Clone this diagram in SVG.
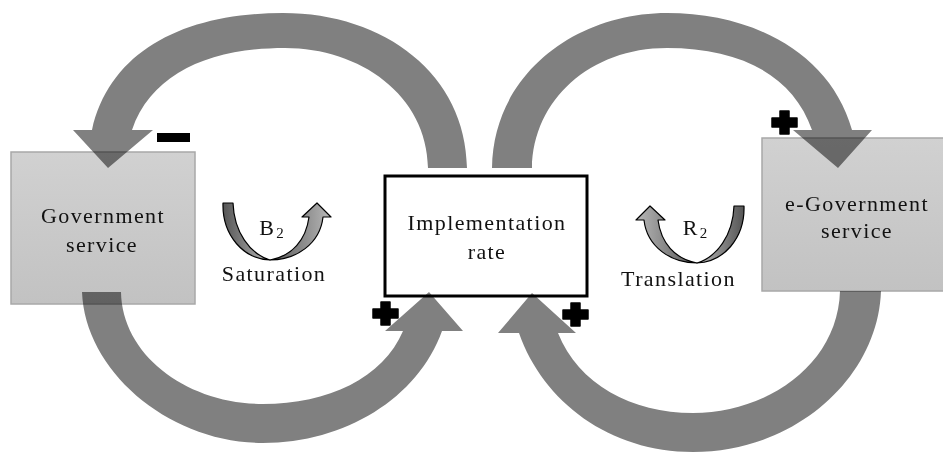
<svg xmlns="http://www.w3.org/2000/svg" width="943" height="453" viewBox="0 0 943 453">
<defs>
<linearGradient id="boxg" x1="0" y1="0" x2="0" y2="1">
<stop offset="0" stop-color="#d1d1d1"/>
<stop offset="1" stop-color="#c2c2c2"/>
</linearGradient>
<linearGradient id="icong" x1="0" y1="0" x2="1" y2="0">
<stop offset="0" stop-color="#555555"/>
<stop offset="1" stop-color="#b8b8b8"/>
</linearGradient>
<path id="plus" d="M -4.5,-11.5 h9 v7 h8 v9 h-8 v7 h-9 v-7 h-8 v-9 h8 z"/>
<g id="loopicon">
<path d="M 223,203 L 233,203 C 234,232 250,254 270,260 C 244,259 222,236 223,203 Z"/>
<path d="M 270,260 C 292,256 306,240 309,217 L 302,217 L 317,203 L 331,217 L 323,217 C 320,244 296,260 270,260 Z"/>
</g>
</defs>
<style>
.box{fill:url(#boxg);stroke:#a8a8a8;stroke-width:1.5}
.impl{fill:#ffffff;stroke:#000000;stroke-width:3}
.arrow{fill:#808080;mix-blend-mode:multiply}
.lbl{font-family:"Liberation Serif","Times New Roman",serif;font-size:22px;fill:#111111;letter-spacing:1.4px;text-anchor:middle}
.sub{font-size:15px;letter-spacing:0}
.icon{fill:url(#icong);stroke:#000000;stroke-width:1.2;stroke-linejoin:round}
.sign{fill:#000000;stroke:#000000;stroke-width:1.5;stroke-linejoin:round}
</style>
<rect x="0" y="0" width="943" height="453" fill="#ffffff"/>
<g id="node-government-service">
<rect class="box" x="11" y="152" width="184" height="152"/>
<text class="lbl" x="103" y="223">Government</text>
<text class="lbl" x="102" y="252">service</text>
</g>
<g id="node-implementation-rate">
<rect class="impl" x="385" y="176" width="202" height="120"/>
<text class="lbl" x="487" y="230">Implementation</text>
<text class="lbl" x="487" y="259">rate</text>
</g>
<g id="node-egovernment-service">
<rect class="box" x="762" y="138" width="190" height="153"/>
<text class="lbl" x="857" y="211">e-Government</text>
<text class="lbl" x="857" y="238">service</text>
</g>
<g id="connectors">
<path class="arrow" d="M 467,168 C 466,75 385,13 283,13 C 185,13 110,50 92,130 L 73,130 L 108,168 L 153,130 L 132,130 C 152,72 212,48 285,48 C 360,48 427,95 428,168 Z"/>
<path class="arrow" d="M 492,168 C 493,75 575,13 667,13 C 752,13 830,52 852,130 L 872,130 L 838,168 L 793,130 L 812,130 C 793,75 740,48 667,48 C 590,48 533,100 532,168 Z"/>
<path class="arrow" d="M 82,292 C 85,372 170,443 263,443 C 345,443 418,398 442,331 L 463,331 L 429,292 L 385,331 L 403,331 C 383,378 328,404 263,404 C 188,404 122,356 121,292 Z"/>
<path class="arrow" d="M 881,291 C 878,378 795,452 693,452 C 610,452 543,402 519,333 L 498,333 L 532,293 L 576,333 L 558,333 C 578,384 632,413 693,413 C 768,413 838,364 840,291 Z"/>
</g>
<g id="polarity">
<rect x="157" y="133" width="33" height="9" fill="#000000"/>
<use href="#plus" class="sign" x="784.5" y="122.5"/>
<use href="#plus" class="sign" x="385.5" y="313.5"/>
<use href="#plus" class="sign" x="575.5" y="314.5"/>
</g>
<g id="loop-b2">
<use href="#loopicon" class="icon"/>
<text class="lbl" x="266.5" y="235" style="letter-spacing:0">B</text>
<text class="lbl sub" x="280" y="238">2</text>
<text class="lbl" x="274" y="281">Saturation</text>
</g>
<g id="loop-r2">
<use href="#loopicon" class="icon" transform="translate(967,3) scale(-1,1)"/>
<text class="lbl" x="690" y="235" style="letter-spacing:0">R</text>
<text class="lbl sub" x="703.5" y="238">2</text>
<text class="lbl" x="678.5" y="286">Translation</text>
</g>
</svg>
